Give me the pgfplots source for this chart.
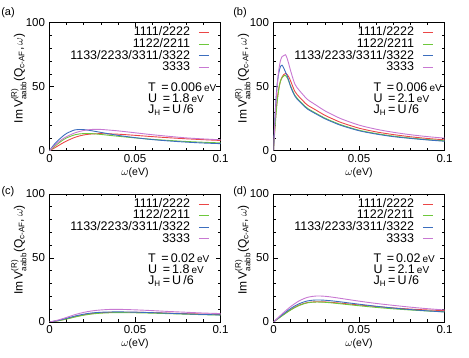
\documentclass[border=0pt]{standalone}
\usepackage{pgfplots}
\usepackage{pgfplotstable}
\usepackage{amsmath}
\usepackage{fontspec}
\setmainfont{Liberation Sans}
\pgfplotsset{compat=1.18}

\definecolor{cR}{RGB}{235,70,70}
\definecolor{cG}{RGB}{110,200,60}
\definecolor{cB}{RGB}{60,110,190}
\definecolor{cP}{RGB}{200,120,210}

% panel (a): T=0.006, U=1.8
\pgfplotstableread{
x      r     g     b     p
0      0     0     0     0
0.0025 1.8   2.8   4.5   3.5
0.005  3.8   5.5   8.0   6.5
0.0075 5.8   8.0   11.0  9.0
0.01   7.6   10.0  13.5  11.0
0.015  10.5  12.5  16.3  14.0
0.02   12.3  13.4  16.5  15.8
0.025  13.1  13.3  15.5  16.6
0.03   13.3  12.7  14.3  16.6
0.04   12.9  11.3  12.0  15.5
0.05   12.0  10.0  10.2  14.0
0.06   11.0  8.9   8.7   12.5
0.07   10.1  8.0   7.6   11.2
0.08   9.3   7.2   6.7   10.0
0.09   8.6   6.6   6.0   9.2
0.1    8.0   6.1   5.5   8.5
}\tabA

% panel (b): T=0.006, U=2.1
\pgfplotstableread{
x      r     g     b     p
0      0     0     0     0
0.001  22    20    30    28
0.002  38    36    50    48
0.003  48    47    60    62
0.004  54    54    65.5  70
0.005  57.5  57    66.8  73.5
0.006  59.5  58.5  64.5  74.3
0.007  60.3  58.8  61.5  75
0.008  59.5  57    58.5  72
0.009  57.5  54    54.5  67.5
0.01   54.5  50.5  50    62.5
0.0125 46.3  43.3  42.6  52
0.015  42.1  39.3  38.7  47.3
0.0175 38.6  36    35.4  43.4
0.02   35.5  33    32.4  39.9
0.025  31.6  29.1  28.6  35.5
0.03   27.7  25.5  25    31.2
0.035  24.6  22.6  22.1  27.8
0.04   21.8  20    19.5  24.7
0.05   17.6  16    15.6  20
0.06   14.7  13.4  13    16.8
0.07   12.6  11.4  11    14.4
0.08   10.9  9.9   9.6   12.5
0.09   9.55  8.7   8.4   11
0.1    8.5   7.7   7.4   9.8
}\tabB

% panel (c): T=0.02, U=1.8
\pgfplotstableread{
x      r     g     b     p
0      0     0     0     0
0.005  1.0   0.9   1.2   1.5
0.01   2.5   2.3   2.9   3.6
0.015  4.2   3.9   4.7   5.8
0.02   5.6   5.3   6.1   7.5
0.025  6.6   6.3   7.1   8.7
0.03   7.2   6.9   7.6   9.4
0.035  7.5   7.2   7.8   9.8
0.04   7.6   7.3   7.9   9.9
0.05   7.6   7.2   7.7   9.5
0.06   7.3   6.9   7.3   8.9
0.07   6.9   6.5   6.8   8.2
0.08   6.5   6.1   6.3   7.6
0.09   6.2   5.7   5.9   7.0
0.1    5.9   5.4   5.5   6.6
}\tabC

% panel (d): T=0.02, U=2.1
\pgfplotstableread{
x      r     g     b     p
0      0     0     0     0
0.005  5.0   4.8   5.5   6.3
0.01   9.6   9.3   10.5  12.0
0.015  13.2  12.9  14.3  16.5
0.02   15.2  15.0  16.5  19.3
0.025  15.8  15.6  17.2  20.3
0.03   15.7  15.4  17.0  20.1
0.035  15.2  14.8  16.4  19.3
0.04   14.6  14.1  15.6  18.3
0.05   13.3  12.7  13.9  16.3
0.06   12.1  11.4  12.3  14.5
0.07   11.0  10.3  10.9  13.0
0.08   10.1  9.4   9.7   11.6
0.09   9.4   8.6   8.7   10.4
0.1    8.9   8.0   7.8   9.4
}\tabD

\pgfplotsset{
  panel/.style={
    width=171pt, height=128pt, scale only axis,
    anchor=south west,
    xmin=0, xmax=0.1, ymin=0, ymax=100,
    xtick={0,0.05,0.1}, xticklabels={0,0.05,0.1},
    ytick={0,50,100},
    minor x tick num=4, minor y tick num=4,
    scaled x ticks=false,
    tick align=inside,
    major tick length=4.5pt, minor tick length=2.5pt,
    tick style={black, line width=0.6pt},
    axis line style={line width=0.7pt},
    /pgf/number format/assume math mode=true,
    tick label style={font=\fontsize{11.5}{13}\selectfont},
    yticklabel style={xshift=-1pt},
    xlabel={$\omega$(eV)},
    xlabel style={font=\fontsize{10.5}{12}\selectfont,
      at={(axis description cs:0.5,-0.172)}, anchor=center},
    ylabel={Im\,V$^{\text{(R)}}_{\text{aabb}}$(Q$_{\text{c-AF}}$,\,$\omega$)},
    ylabel style={font=\fontsize{12}{14}\selectfont,
      at={(axis description cs:-0.18,0.564)}, anchor=center},
    legend plot pos=right,
    legend cell align=right,
    legend image code/.code={\draw[#1] (0pt,0pt) -- (10pt,0pt);},
    legend style={draw=none, fill=none, at={(1,1)}, anchor=north east,
      xshift=-11pt, yshift=-4pt, inner sep=0pt,
      font=\fontsize{12.5}{14}\selectfont,
      nodes={inner sep=0.3pt, text height=8.8pt, text depth=2.2pt},
      column sep=8pt},
    every axis plot/.append style={line width=0.9pt, smooth},
  },
}

\newcommand{\curves}[1]{%
  \addplot[cR] table[x=x,y=r] {#1};
  \addplot[cG] table[x=x,y=g] {#1};
  \addplot[cB] table[x=x,y=b] {#1};
  \addplot[cP] table[x=x,y=p] {#1};
  \legend{1111/2222,1122/2211,1133/2233/3311/3322,3333}%
}

\newcommand{\params}[3]{%
  \node[anchor=west, font=\fontsize{12.5}{14}\selectfont, inner sep=0pt] at (rel axis cs:#1,0.497) {T \,=\,#2\,{\fontsize{10}{12}\selectfont eV}};
  \node[anchor=west, font=\fontsize{12.5}{14}\selectfont, inner sep=0pt] at (rel axis cs:#1,0.41) {U \,=\,#3\,{\fontsize{10}{12}\selectfont eV}};
  \node[anchor=west, font=\fontsize{12.5}{14}\selectfont, inner sep=0pt] at (rel axis cs:#1,0.318) {J$_{\text{\fontsize{8}{9}\selectfont H}}$\,=\,U\,/6};
}

\begin{document}
\begin{tikzpicture}
\useasboundingbox (0,0) rectangle (469pt,358pt);

\begin{axis}[panel, at={(49.5pt,207.3pt)}]
  \curves{\tabA}
  \params{0.576}{0.006}{1.8}
\end{axis}

\begin{axis}[panel, at={(273.5pt,207.3pt)}]
  \curves{\tabB}
  \params{0.584}{0.006}{2.1}
\end{axis}

\begin{axis}[panel, at={(49.5pt,36pt)}]
  \curves{\tabC}
  \params{0.576}{0.02}{1.8}
\end{axis}

\begin{axis}[panel, at={(273.5pt,36pt)}]
  \curves{\tabD}
  \params{0.584}{0.02}{2.1}
\end{axis}

\node[font=\fontsize{11}{13}\selectfont] at (8pt,345pt) {(a)};
\node[font=\fontsize{11}{13}\selectfont] at (240pt,345pt) {(b)};
\node[font=\fontsize{11}{13}\selectfont] at (8pt,166pt) {(c)};
\node[font=\fontsize{11}{13}\selectfont] at (240pt,166pt) {(d)};
\end{tikzpicture}
\end{document}
